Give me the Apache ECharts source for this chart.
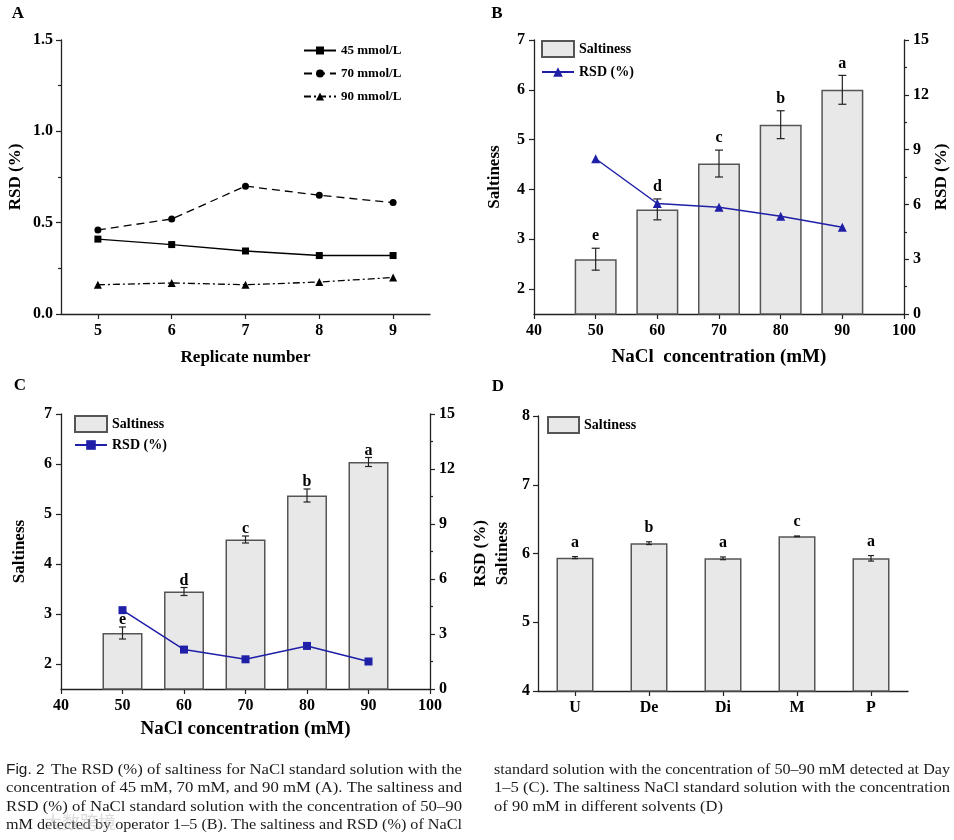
<!DOCTYPE html>
<html>
<head>
<meta charset="utf-8">
<script src="https://cdn.jsdelivr.net/npm/echarts@6/dist/echarts.min.js"></script>
<style>
html,body{margin:0;padding:0;background:#fff;}
#main{width:954px;height:840px;}
</style>
</head>
<body>
<div id="main"></div>
<script>
// ---------- Panel A ----------
const replicates = ['5', '6', '7', '8', '9'];
const rsd45 = [0.41, 0.38, 0.345, 0.32, 0.32];
const rsd70 = [0.46, 0.52, 0.70, 0.65, 0.61];
const rsd90 = [0.16, 0.17, 0.16, 0.175, 0.20];

// ---------- Panel B ----------
const concB = [50, 60, 70, 80, 90];
const saltB = [2.6, 3.6, 4.52, 5.3, 6.0];
const errB = [0.22, 0.21, 0.27, 0.28, 0.29];
const letterB = ['e', 'd', 'c', 'b', 'a'];
const rsdB = [8.5, 6.05, 5.85, 5.35, 4.75];

// ---------- Panel C ----------
const concC = [50, 60, 70, 80, 90];
const saltC = [2.62, 3.45, 4.49, 5.37, 6.04];
const errC = [0.12, 0.08, 0.07, 0.13, 0.09];
const letterC = ['e', 'd', 'c', 'b', 'a'];
const rsdC = [4.3, 2.15, 1.62, 2.35, 1.5];

// ---------- Panel D ----------
const solvents = ['U', 'De', 'Di', 'M', 'P'];
const saltD = [5.94, 6.15, 5.93, 6.25, 5.93];
const errD = [0.015, 0.02, 0.02, 0.005, 0.04];
const letterD = ['a', 'b', 'a', 'c', 'a'];

// tick labels
const saltTicks = [2, 3, 4, 5, 6, 7];

const captionLeft = [
  'The RSD (%) of saltiness for NaCl standard solution with the',
  'concentration of 45 mM, 70 mM, and 90 mM (A). The saltiness and',
  'RSD (%) of NaCl standard solution with the concentration of 50\u201390',
  'mM detected by operator 1\u20135 (B). The saltiness and RSD (%) of NaCl'
];
const captionRight = [
  'standard solution with the concentration of 50\u201390 mM detected at Day',
  '1\u20135 (C). The saltiness NaCl standard solution with the concentration',
  'of 90 mM in different solvents (D)'
];

const SERIF = '"Liberation Serif","Times New Roman",serif';
const AX = '#222';
const BLUE = '#1f1fa8';
const BAR_FILL = '#e8e8e8';
const BAR_EDGE = '#555';

function axisLine() { return { show: true, lineStyle: { color: AX, width: 1.3 } }; }
function tickStyle(len) { return { show: true, length: len || 5, lineStyle: { color: AX, width: 1.2 } }; }
const tickFont = { color: '#000', fontFamily: SERIF, fontWeight: 'bold', fontSize: 16 };
const nameFont = (s) => ({ color: '#000', fontFamily: SERIF, fontWeight: 'bold', fontSize: s });
const legendFont = { fontFamily: SERIF, fontWeight: 'bold', fontSize: 14, color: '#000' };

function errRender(letters, offset, cap) {
  return function (params, api) {
    const x = api.value(0), y = api.value(1), e = api.value(2);
    const top = api.coord([x, y + e]);
    const bot = api.coord([x, y - e]);
    const c = cap / 2;
    const st = { stroke: '#222', lineWidth: 1.2 };
    return {
      type: 'group',
      children: [
        { type: 'line', shape: { x1: top[0], y1: top[1], x2: bot[0], y2: bot[1] }, style: st },
        { type: 'line', shape: { x1: top[0] - c, y1: top[1], x2: top[0] + c, y2: top[1] }, style: st },
        { type: 'line', shape: { x1: bot[0] - c, y1: bot[1], x2: bot[0] + c, y2: bot[1] }, style: st },
        { type: 'text', x: top[0], y: top[1] - offset,
          style: { text: letters[params.dataIndex], fill: '#000', font: 'bold 16px ' + SERIF,
                   align: 'center', verticalAlign: 'middle' } }
      ]
    };
  };
}

function zip3(a, b, c) { return a.map((v, i) => [v, b[i], c[i]]); }
function zip2(a, b) { return a.map((v, i) => [v, b[i]]); }

const chart = echarts.init(document.getElementById('main'), null, { renderer: 'canvas' });

// caption helpers (fit justified lines to column width)
const mctx = document.createElement('canvas').getContext('2d');
function measure(text, font) { mctx.font = font; return mctx.measureText(text).width; }
const capFont = '14px ' + SERIF;
const figFont = '14px "Liberation Sans Narrow","Liberation Sans",Arial,sans-serif';
const capGraphics = [];
const scales = [];
function capLine(text, x0, x1, y, sxFixed) {
  const w = measure(text, capFont);
  const sx = sxFixed || (x1 - x0) / w;
  if (!sxFixed) scales.push(sx);
  capGraphics.push({ type: 'text', x: x0, y: y, scaleX: sx, scaleY: 1, originX: 0, originY: 0,
    style: { text: text, font: capFont, fill: '#1a1a1a', verticalAlign: 'middle', align: 'left' } });
}
const capY = [770, 788.5, 807, 825.5];
capLine(captionLeft[0], 51, 462, capY[0]);
for (let i = 1; i < captionLeft.length; i++) capLine(captionLeft[i], 6, 462, capY[i]);
capLine(captionRight[0], 494, 950, capY[0]);
capLine(captionRight[1], 494, 950, capY[1]);
const meanScale = scales.reduce((a, b) => a + b, 0) / scales.length;
capLine(captionRight[2], 494, 950, capY[2], meanScale);
capGraphics.push({ type: 'text', x: 6, y: 770, scaleX: 1.1, originX: 0,
  style: { text: 'Fig. 2', font: figFont, fill: '#1a1a1a', verticalAlign: 'middle' } });

const panelLetters = [
  { t: 'A', x: 18, y: 14 }, { t: 'B', x: 497, y: 14 },
  { t: 'C', x: 20, y: 386 }, { t: 'D', x: 498, y: 387 }
].map(p => ({ type: 'text', x: p.x, y: p.y,
  style: { text: p.t, font: 'bold 17px ' + SERIF, fill: '#000', align: 'center', verticalAlign: 'middle' } }));

const watermark = { type: 'text', x: 44, y: 822,
  style: { text: '大数跨境', font: '18px "Noto Sans CJK SC"', fill: 'rgba(190,190,190,0.55)', verticalAlign: 'middle' } };

const option = {
  animation: false,
  backgroundColor: '#fff',
  grid: [
    { left: 61, top: 40, width: 369, height: 274 },
    { left: 534, top: 40, width: 370, height: 274 },
    { left: 61, top: 414, width: 369, height: 275 },
    { left: 538, top: 416, width: 370, height: 275 }
  ],
  xAxis: [
    { gridIndex: 0, type: 'category', data: replicates, boundaryGap: true,
      axisLine: axisLine(), axisTick: Object.assign(tickStyle(5), { alignWithLabel: true }),
      axisLabel: Object.assign({ margin: 9 }, tickFont), splitLine: { show: false },
      name: 'Replicate number', nameLocation: 'middle', nameGap: 35, nameTextStyle: nameFont(17) },
    { gridIndex: 1, type: 'value', min: 40, max: 100, interval: 10,
      axisLine: axisLine(), axisTick: tickStyle(5), axisLabel: Object.assign({ margin: 9 }, tickFont),
      splitLine: { show: false },
      name: 'NaCl  concentration (mM)', nameLocation: 'middle', nameGap: 34, nameTextStyle: nameFont(19) },
    { gridIndex: 2, type: 'value', min: 40, max: 100, interval: 10,
      axisLine: axisLine(), axisTick: tickStyle(5), axisLabel: Object.assign({ margin: 9 }, tickFont),
      splitLine: { show: false },
      name: 'NaCl concentration (mM)', nameLocation: 'middle', nameGap: 31, nameTextStyle: nameFont(19) },
    { gridIndex: 3, type: 'category', data: solvents, boundaryGap: true,
      axisLine: axisLine(), axisTick: Object.assign(tickStyle(5), { alignWithLabel: true }),
      axisLabel: Object.assign({ margin: 9 }, tickFont), splitLine: { show: false } }
  ],
  yAxis: [
    { gridIndex: 0, type: 'value', min: 0, max: 1.5, interval: 0.5,
      axisLine: axisLine(), axisTick: tickStyle(5),
      minorTick: { show: true, splitNumber: 2, length: 3, lineStyle: { color: AX, width: 1.2 } },
      axisLabel: Object.assign({ margin: 8, formatter: v => v.toFixed(1) }, tickFont),
      splitLine: { show: false }, minorSplitLine: { show: false },
      name: 'RSD (%)', nameLocation: 'middle', nameRotate: 90, nameGap: 37, nameTextStyle: nameFont(17) },
    { gridIndex: 1, type: 'value', min: 1.5, max: 7,
      axisLine: axisLine(), axisTick: Object.assign(tickStyle(5), { customValues: saltTicks }),
      axisLabel: Object.assign({ margin: 9, customValues: saltTicks }, tickFont),
      splitLine: { show: false },
      name: 'Saltiness', nameLocation: 'middle', nameRotate: 90, nameGap: 31, nameTextStyle: nameFont(17) },
    { gridIndex: 1, type: 'value', position: 'right', min: 0, max: 15, interval: 3,
      axisLine: axisLine(), axisTick: tickStyle(5),
      minorTick: { show: true, splitNumber: 2, length: 3, lineStyle: { color: AX, width: 1.2 } },
      axisLabel: Object.assign({ margin: 9 }, tickFont), splitLine: { show: false },
      name: 'RSD (%)', nameLocation: 'middle', nameRotate: 90, nameGap: 28, nameTextStyle: nameFont(17) },
    { gridIndex: 2, type: 'value', min: 1.5, max: 7,
      axisLine: axisLine(), axisTick: Object.assign(tickStyle(5), { customValues: saltTicks }),
      axisLabel: Object.assign({ margin: 9, customValues: saltTicks }, tickFont),
      splitLine: { show: false },
      name: 'Saltiness', nameLocation: 'middle', nameRotate: 90, nameGap: 33, nameTextStyle: nameFont(17) },
    { gridIndex: 2, type: 'value', position: 'right', min: 0, max: 15, interval: 3,
      axisLine: axisLine(), axisTick: tickStyle(5),
      minorTick: { show: true, splitNumber: 2, length: 3, lineStyle: { color: AX, width: 1.2 } },
      axisLabel: Object.assign({ margin: 9 }, tickFont), splitLine: { show: false } },
    { gridIndex: 3, type: 'value', min: 4, max: 8, interval: 1,
      axisLine: axisLine(), axisTick: tickStyle(5),
      axisLabel: Object.assign({ margin: 8 }, tickFont), splitLine: { show: false },
      name: 'RSD (%)\nSaltiness', nameLocation: 'middle', nameRotate: 90, nameGap: 24,
      nameTextStyle: Object.assign(nameFont(17), { lineHeight: 22 }) }
  ],
  legend: [
    { left: 303, top: 44, orient: 'vertical', padding: 0, itemWidth: 32, itemHeight: 10, itemGap: 10,
      textStyle: { fontFamily: SERIF, fontWeight: 'bold', fontSize: 13, color: '#000' },
      data: ['45 mmol/L', '70 mmol/L', '90 mmol/L'] },
    { left: 541, top: 40, orient: 'vertical', padding: 0, itemWidth: 32, itemHeight: 16,
      textStyle: legendFont, data: [{ name: 'Saltiness', icon: 'rect' }] },
    { left: 541, top: 65, orient: 'vertical', padding: 0, itemWidth: 32, itemHeight: 12,
      textStyle: legendFont, data: ['RSD (%)'] },
    { left: 74, top: 415, orient: 'vertical', padding: 0, itemWidth: 32, itemHeight: 16,
      textStyle: legendFont, data: [{ name: 'Saltiness ', icon: 'rect' }] },
    { left: 74, top: 438, orient: 'vertical', padding: 0, itemWidth: 32, itemHeight: 12,
      textStyle: legendFont, data: ['RSD (%) '] },
    { left: 547, top: 416, orient: 'vertical', padding: 0, itemWidth: 31, itemHeight: 16,
      textStyle: legendFont, data: [{ name: 'Saltiness  ', icon: 'rect' }] }
  ],
  series: [
    // A
    { name: '45 mmol/L', type: 'line', xAxisIndex: 0, yAxisIndex: 0, data: rsd45,
      symbol: 'rect', symbolSize: 7, color: '#000', lineStyle: { color: '#000', width: 1.4, type: 'solid' },
      itemStyle: { color: '#000' } },
    { name: '70 mmol/L', type: 'line', xAxisIndex: 0, yAxisIndex: 0, data: rsd70,
      symbol: 'circle', symbolSize: 7, color: '#000', lineStyle: { color: '#000', width: 1.3, type: [8, 5] },
      itemStyle: { color: '#000' } },
    { name: '90 mmol/L', type: 'line', xAxisIndex: 0, yAxisIndex: 0, data: rsd90,
      symbol: 'triangle', symbolSize: 8, color: '#000', lineStyle: { color: '#000', width: 1.3, type: [7, 3, 2, 3] },
      itemStyle: { color: '#000' } },
    // B
    { name: 'Saltiness', type: 'bar', xAxisIndex: 1, yAxisIndex: 1, data: zip2(concB, saltB), barWidth: 42,
      itemStyle: { color: BAR_FILL, borderColor: BAR_EDGE, borderWidth: 1.5 } },
    { name: 'errB', type: 'custom', xAxisIndex: 1, yAxisIndex: 1, data: zip3(concB, saltB, errB),
      renderItem: errRender(letterB, 12, 8), z: 5 },
    { name: 'RSD (%)', type: 'line', xAxisIndex: 1, yAxisIndex: 2, data: zip2(concB, rsdB),
      symbol: 'triangle', symbolSize: 9, color: BLUE, lineStyle: { color: BLUE, width: 1.5 },
      itemStyle: { color: BLUE }, z: 6 },
    // C
    { name: 'Saltiness ', type: 'bar', xAxisIndex: 2, yAxisIndex: 3, data: zip2(concC, saltC), barWidth: 40,
      itemStyle: { color: BAR_FILL, borderColor: BAR_EDGE, borderWidth: 1.5 } },
    { name: 'errC', type: 'custom', xAxisIndex: 2, yAxisIndex: 3, data: zip3(concC, saltC, errC),
      renderItem: errRender(letterC, 7, 7), z: 5 },
    { name: 'RSD (%) ', type: 'line', xAxisIndex: 2, yAxisIndex: 4, data: zip2(concC, rsdC),
      symbol: 'rect', symbolSize: 8, color: BLUE, lineStyle: { color: BLUE, width: 1.5 },
      itemStyle: { color: BLUE }, z: 6 },
    // D
    { name: 'Saltiness  ', type: 'bar', xAxisIndex: 3, yAxisIndex: 5, data: saltD, barWidth: 37,
      itemStyle: { color: BAR_FILL, borderColor: BAR_EDGE, borderWidth: 1.5 } },
    { name: 'errD', type: 'custom', xAxisIndex: 3, yAxisIndex: 5,
      data: saltD.map((v, i) => [i, v, errD[i]]),
      renderItem: errRender(letterD, 14, 6), z: 5 }
  ],
  graphic: panelLetters.concat(capGraphics).concat([watermark])
};
chart.setOption(option);
</script>
</body>
</html>
